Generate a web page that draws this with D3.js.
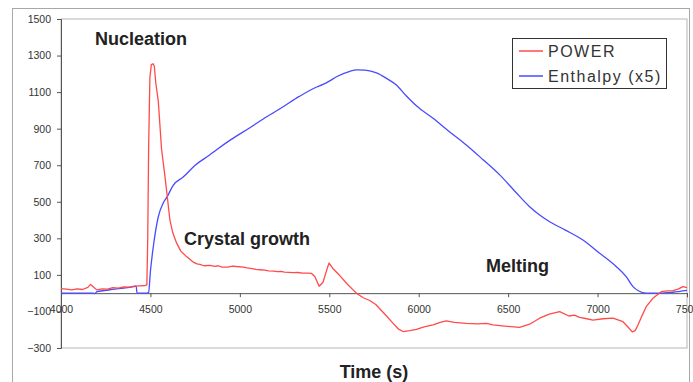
<!DOCTYPE html>
<html><head><meta charset="utf-8">
<script src="https://cdn.jsdelivr.net/npm/d3@7"></script>
<style>
html,body{margin:0;padding:0;background:#fff;}
svg{display:block;font-family:"Liberation Sans",Arial,sans-serif;}
</style></head>
<body>
<svg id="chart" width="693" height="382"></svg>
<script>
// ---- data ----
const powerTime = [4000,4030,4060,4090,4120,4150,4165,4180,4200,4230,4260,4290,4320,4350,4380,4410,4440,4470,4480,4485,4490,4497,4505,4515,4522,4530,4544,4562,4581,4594,4609,4625,4646,4670,4702,4739,4760,4777,4800,4832,4860,4880,4900,4930,4960,4980,5019,5040,5060,5090,5112,5140,5160,5190,5210,5230,5250,5275,5298,5325,5350,5380,5401,5420,5443,5465,5490,5499,5520,5560,5600,5633,5652,5690,5726,5760,5782,5820,5857,5885,5913,5950,5987,6030,6080,6120,6154,6200,6266,6330,6378,6415,6480,6564,6620,6676,6730,6788,6840,6870,6900,6940,6974,7030,7086,7142,7170,7194,7210,7226,7250,7272,7309,7340,7356,7390,7421,7450,7477,7500];
const powerValues = [25,22,18,24,20,32,48,35,18,24,22,30,28,34,33,38,40,42,45,300,800,1180,1250,1255,1240,1150,1050,790,640,530,400,330,275,230,200,170,160,158,150,152,147,150,143,142,148,146,143,138,136,130,128,126,122,121,118,119,115,114,112,113,110,110,108,90,38,60,140,165,135,95,50,18,0,-25,-40,-62,-85,-125,-165,-195,-210,-205,-198,-185,-174,-160,-152,-160,-165,-168,-165,-174,-180,-187,-170,-137,-115,-101,-125,-120,-132,-140,-147,-140,-137,-156,-185,-212,-205,-174,-120,-74,-28,-5,8,12,14,22,36,30];

const enthalpyTime = [4000,4180,4190,4200,4250,4300,4350,4400,4420,4425,4480,4490,4500,4516,4544,4570,4594,4627,4683,4750,4829,4870,4950,5056,5150,5242,5330,5429,5465,5500,5540,5615,5652,5700,5764,5820,5875,5930,5987,6080,6170,6266,6360,6453,6540,6620,6680,6732,6820,6918,7010,7105,7160,7198,7230,7272,7350,7420,7500];
const enthalpyValues = [0,0,-3,8,15,22,28,35,38,2,0,5,120,254,418,490,528,590,635,700,755,785,840,905,965,1020,1075,1128,1142,1160,1184,1214,1222,1220,1205,1175,1139,1080,1025,957,885,811,730,647,555,473,425,391,345,291,220,145,90,36,12,0,0,5,15];

const xTicks = [4000,4500,5000,5500,6000,6500,7000,7500];
const yTicks = [-300,-100,100,300,500,700,900,1100,1300,1500];
const seriesNames = ["POWER","Enthalpy (x5)"];
const annotations = [
  {text:"Nucleation", t:4190, v:1360},
  {text:"Crystal growth", t:4688, v:262},
  {text:"Melting", t:6376, v:116}
];

// ---- layout ----
const svg = d3.select("#chart");
const pLeft = 61, pRight = 687, pTop = 19, pBottom = 348;
const x = d3.scaleLinear().domain([4000,7500]).range([pLeft,pRight]);
const y = d3.scaleLinear().domain([-300,1500]).range([pBottom,pTop]);

// outer frame
svg.append("rect").attr("x",12.5).attr("y",8.5).attr("width",677).attr("height",400)
  .attr("fill","none").attr("stroke","#a8a8a8").attr("stroke-width",1);
// plot area border
svg.append("rect").attr("x",pLeft).attr("y",pTop).attr("width",pRight-pLeft).attr("height",pBottom-pTop)
  .attr("fill","none").attr("stroke","#b5b5b5").attr("stroke-width",1);

// y axis
const yAxis = d3.axisLeft(y).tickValues(yTicks).tickSize(4).tickPadding(6).tickFormat(d3.format("d"));
const gy = svg.append("g").attr("transform",`translate(${pLeft},0)`).call(yAxis);
gy.select(".domain").attr("stroke","#555");
gy.selectAll(".tick line").attr("stroke","#555");
gy.selectAll("text").attr("fill","#333").style("font-size","10.5px").style("font-family","'Liberation Sans',Arial,sans-serif");

// x axis at y = 0
const xAxis = d3.axisBottom(x).tickValues(xTicks).tickSize(4).tickPadding(8).tickFormat(d3.format("d"));
const gx = svg.append("g").attr("transform",`translate(0,${y(0)})`).call(xAxis);
gx.select(".domain").attr("stroke","#555");
gx.selectAll(".tick line").attr("stroke","#555");
gx.selectAll("text").attr("fill","#333").style("font-size","10.5px").style("font-family","'Liberation Sans',Arial,sans-serif");

// lines
const powerLine = d3.line().x(d=>x(d[0])).y(d=>y(d[1]));
const enthLine = d3.line().x(d=>x(d[0])).y(d=>y(d[1])).curve(d3.curveMonotoneX);
const powerData = powerTime.map((t,i)=>[t,powerValues[i]]);
const enthData = enthalpyTime.map((t,i)=>[t,enthalpyValues[i]]);
const colors = ["#ff4a4a","#4a4aff"];

svg.append("path").datum(enthData).attr("d",enthLine).attr("fill","none")
  .attr("stroke",colors[1]).attr("stroke-width",1.3).attr("stroke-linejoin","round");
svg.append("path").datum(powerData).attr("d",powerLine).attr("fill","none")
  .attr("stroke",colors[0]).attr("stroke-width",1.3).attr("stroke-linejoin","round");

// annotations
annotations.forEach(a=>{
  svg.append("text").attr("x",x(a.t)).attr("y",y(a.v)).text(a.text)
    .attr("fill","#222").style("font-size","18px").style("font-weight","bold");
});

// axis title
svg.append("text").attr("x",374).attr("y",378).attr("text-anchor","middle").text("Time (s)")
  .attr("fill","#222").style("font-size","18px").style("font-weight","bold");

// legend
const lg = svg.append("g");
lg.append("rect").attr("x",512.5).attr("y",38.5).attr("width",154).attr("height",50)
  .attr("fill","#fff").attr("stroke","#333").attr("stroke-width",1);
seriesNames.forEach((n,i)=>{
  const cy = 51 + i*25;
  lg.append("line").attr("x1",519).attr("x2",543).attr("y1",cy).attr("y2",cy)
    .attr("stroke",colors[i]).attr("stroke-width",1.5);
  lg.append("text").attr("x",548).attr("y",cy+6).text(n).attr("fill","#333")
    .style("font-size","16px").style("letter-spacing","1.5px");
});
</script>
</body></html>
